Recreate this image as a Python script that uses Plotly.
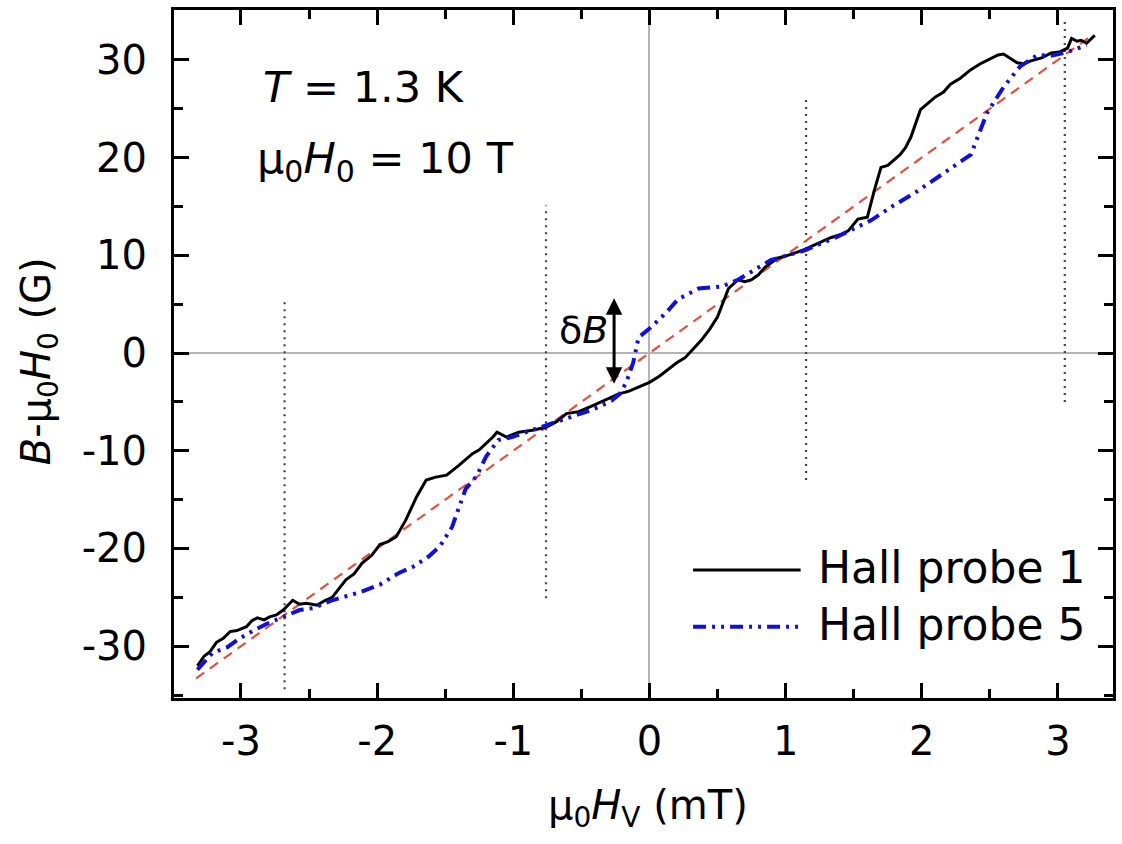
import plotly.graph_objects as go

# Hall probe 1: local field vs. applied vortex field
probe1_h = [-3.32, -3.27, -3.23, -3.18, -3.13, -3.08, -3.03, -2.96, -2.92, -2.88,
            -2.83, -2.79, -2.74, -2.69, -2.62, -2.57, -2.52, -2.44, -2.38, -2.33,
            -2.23, -2.17, -2.11, -2.04, -1.98, -1.92, -1.86, -1.79, -1.71, -1.64,
            -1.57, -1.49, -1.40, -1.35, -1.30, -1.25, -1.20, -1.15, -1.12, -1.05,
            -0.96, -0.86, -0.76, -0.68, -0.61, -0.52, -0.42, -0.32, -0.23, -0.15,
            -0.08, 0.00, 0.07, 0.14, 0.20, 0.26, 0.32, 0.38, 0.44, 0.50,
            0.58, 0.65, 0.70, 0.75, 0.80, 0.85, 0.94, 1.04, 1.14, 1.24,
            1.33, 1.40, 1.46, 1.53, 1.60, 1.65, 1.70, 1.75, 1.80, 1.84,
            1.88, 1.92, 1.99, 2.05, 2.10, 2.16, 2.21, 2.28, 2.36, 2.43,
            2.50, 2.56, 2.60, 2.66, 2.70, 2.75, 2.80, 2.88, 2.95, 3.01,
            3.07, 3.10, 3.14, 3.17, 3.21, 3.27]
probe1_b = [-32.0, -31.0, -30.6, -29.6, -29.2, -28.5, -28.4, -28.0, -27.4, -27.1,
            -27.3, -27.0, -26.8, -26.3, -25.3, -25.7, -25.6, -25.8, -25.3, -25.0,
            -23.2, -22.6, -21.5, -20.7, -19.6, -19.3, -18.8, -17.1, -14.7, -13.0,
            -12.7, -12.5, -11.5, -10.9, -10.3, -9.9, -9.3, -8.6, -8.1, -8.6,
            -8.1, -7.9, -7.6, -7.0, -6.2, -6.0, -5.4, -4.8, -4.2, -3.9,
            -3.5, -3.0, -2.4, -1.6, -1.0, -0.5, 0.4, 1.3, 2.4, 3.7,
            6.6, 7.5, 7.3, 7.5, 8.0, 8.8, 9.7, 10.1, 10.6, 11.2,
            11.8, 12.1, 12.5, 13.7, 13.9, 16.6, 19.0, 19.2, 19.8, 20.3,
            21.0, 22.1, 24.9, 25.6, 26.2, 26.7, 27.5, 28.1, 29.0, 29.6,
            30.1, 30.5, 30.6, 30.1, 29.7, 29.6, 29.9, 30.2, 30.7, 30.8,
            31.2, 32.2, 31.9, 32.0, 31.7, 32.5]

# Hall probe 5
probe5_h = [-3.32, -3.21, -3.10, -3.01, -2.91, -2.81, -2.69, -2.57, -2.47, -2.33,
            -2.13, -1.98, -1.84, -1.74, -1.62, -1.54, -1.45, -1.40, -1.35, -1.27,
            -1.20, -1.11, -1.01, -0.76, -0.57, -0.42, -0.28, -0.22, -0.17, -0.12,
            -0.08, 0.00, 0.12, 0.21, 0.36, 0.53, 0.65, 0.89, 1.14, 1.38,
            1.63, 1.77, 1.95, 2.12, 2.28, 2.36, 2.48, 2.60, 2.72, 2.85,
            2.94, 3.07, 3.21]
probe5_b = [-32.4, -30.7, -30.1, -29.2, -28.4, -27.7, -27.0, -26.3, -26.1, -25.3,
            -24.5, -23.7, -22.5, -21.9, -20.8, -19.8, -17.8, -15.7, -13.9, -12.6,
            -10.6, -8.9, -8.6, -7.4, -6.5, -5.8, -4.9, -4.2, -3.0, -1.0,
            1.6, 2.5, 4.1, 5.5, 6.6, 6.8, 7.5, 9.5, 10.5, 11.9,
            13.6, 14.9, 16.4, 18.0, 19.6, 20.3, 24.6, 27.2, 29.3, 30.5,
            30.4, 30.8, 31.5]

# Linear reference (uniform vortex density)
ref_h = [-3.33, 3.25]
ref_b = [-33.3, 32.5]

# Vertical dotted markers
mark_h = [-2.68, -0.76, 1.15, 3.05]
mark_top = [5.7, 15.1, 26.2, 34.1]
mark_bottom = [-34.4, -25.1, -13.0, -5.0]

# Double arrow marking the field jump
arrow_h = -0.26
arrow_low = -3.3
arrow_high = 5.6

x_ticks = [-3, -2, -1, 0, 1, 2, 3]
x_tick_text = ["-3", "-2", "-1", "0", "1", "2", "3"]
y_ticks = [-30, -20, -10, 0, 10, 20, 30]
y_tick_text = ["-30", "-20", "-10", "0", "10", "20", "30"]

series_names = ["Hall probe 1", "Hall probe 5"]

FONT = "DejaVu Sans"
BLUE = "#1010d8"
RED = "#e2513e"
DASHDOTDOT = "13px,6px,3px,6px,3px,6px"


def it(s, size):
    """Italic run with an explicit size."""
    return f'<span style="font-style:italic;font-size:{size}px">{s}</span>'


def sub(s, size):
    """Subscript run with an explicit size."""
    return f'<sub><span style="font-size:{size}px">{s}</span></sub>'


fig = go.Figure()

mx, my = [], []
for h, top, bot in zip(mark_h, mark_top, mark_bottom):
    mx += [h, h, None]
    my += [bot, top, None]
fig.add_trace(go.Scatter(x=mx, y=my, mode="lines",
                         line=dict(color="#444444", width=2.2, dash="2px,5px"),
                         showlegend=False, hoverinfo="skip"))

fig.add_trace(go.Scatter(x=ref_h, y=ref_b, mode="lines",
                         line=dict(color=RED, width=2.2, dash="10px,7px"),
                         showlegend=False))
fig.add_trace(go.Scatter(x=probe1_h, y=probe1_b, mode="lines", name=series_names[0],
                         line=dict(color="black", width=3),
                         showlegend=False))
fig.add_trace(go.Scatter(x=probe5_h, y=probe5_b, mode="lines", name=series_names[1],
                         line=dict(color=BLUE, width=4, dash=DASHDOTDOT),
                         showlegend=False))

axis_common = dict(
    showline=True, linecolor="black", linewidth=3, mirror="allticks",
    ticks="inside", ticklen=15, tickwidth=2.5, tickcolor="black",
    showgrid=False, zeroline=True, zerolinecolor="#b4b4b4", zerolinewidth=1.5,
    tickfont=dict(family=FONT, size=40, color="black"),
)

fig.update_xaxes(range=[-3.492, 3.404], tickvals=x_ticks, ticktext=x_tick_text,
                 minor=dict(ticks="inside", ticklen=9, tickwidth=2.5, tickcolor="black",
                            dtick=0.5, tick0=0, showgrid=False),
                 ticklabelstandoff=6, **axis_common)
fig.update_yaxes(range=[-35.3, 35.1], tickvals=y_ticks, ticktext=y_tick_text,
                 minor=dict(ticks="inside", ticklen=9, tickwidth=2.5, tickcolor="black",
                            dtick=5, tick0=0, showgrid=False),
                 ticklabelstandoff=16, **axis_common)

annotations = [
    dict(x=-2.85, y=27.2, xref="x", yref="y", xanchor="left", yanchor="middle",
         text=it("T", 43) + " = 1.3 K", showarrow=False,
         font=dict(family=FONT, size=43, color="black")),
    dict(x=-2.90, y=19.6, xref="x", yref="y", xanchor="left", yanchor="middle",
         text="μ" + sub("0", 30) + it("H", 43) + sub("0", 30) + " = 10 T", showarrow=False,
         font=dict(family=FONT, size=43, color="black")),
    dict(x=-0.29, y=2.4, xref="x", yref="y", xanchor="right", yanchor="middle",
         text="δ" + it("B", 38), showarrow=False,
         font=dict(family=FONT, size=38, color="black")),
    dict(x=arrow_h, y=arrow_high, ax=arrow_h, ay=arrow_low, xref="x", yref="y",
         axref="x", ayref="y", text="", showarrow=True, arrowhead=2,
         arrowside="end+start", arrowsize=1.1, arrowwidth=3, arrowcolor="black",
         standoff=0, startstandoff=0),
    # legend entries
    dict(x=1.22, y=-21.9, xref="x", yref="y", xanchor="left", yanchor="middle",
         text=series_names[0], showarrow=False,
         font=dict(family=FONT, size=44, color="black")),
    dict(x=1.22, y=-27.8, xref="x", yref="y", xanchor="left", yanchor="middle",
         text=series_names[1], showarrow=False,
         font=dict(family=FONT, size=44, color="black")),
    # axis titles
    dict(x=-0.1444, y=0.49, xref="paper", yref="paper", xanchor="center", yanchor="middle",
         text=it("B", 40) + "-μ" + sub("0", 28) + it("H", 40) + sub("0", 28) + " (G)",
         textangle=-90, showarrow=False, font=dict(family=FONT, size=40, color="black")),
    dict(x=0.505, y=-0.16, xref="paper", yref="paper", xanchor="center", yanchor="middle",
         text="μ" + sub("0", 28) + it("H", 40) + sub("V", 28) + " (mT)",
         showarrow=False, font=dict(family=FONT, size=40, color="black")),
]

shapes = [
    dict(type="line", xref="x", yref="y", x0=0.32, x1=1.11, y0=-22.2, y1=-22.2,
         line=dict(color="black", width=3)),
    dict(type="line", xref="x", yref="y", x0=0.32, x1=1.11, y0=-28.0, y1=-28.0,
         line=dict(color=BLUE, width=4, dash=DASHDOTDOT)),
]

fig.update_layout(
    width=1122, height=844,
    margin=dict(l=174, r=6, t=10, b=146),
    paper_bgcolor="white", plot_bgcolor="white",
    font=dict(family=FONT, color="black"),
    annotations=annotations, shapes=shapes,
    showlegend=False,
)

fig.write_html("out.html")
